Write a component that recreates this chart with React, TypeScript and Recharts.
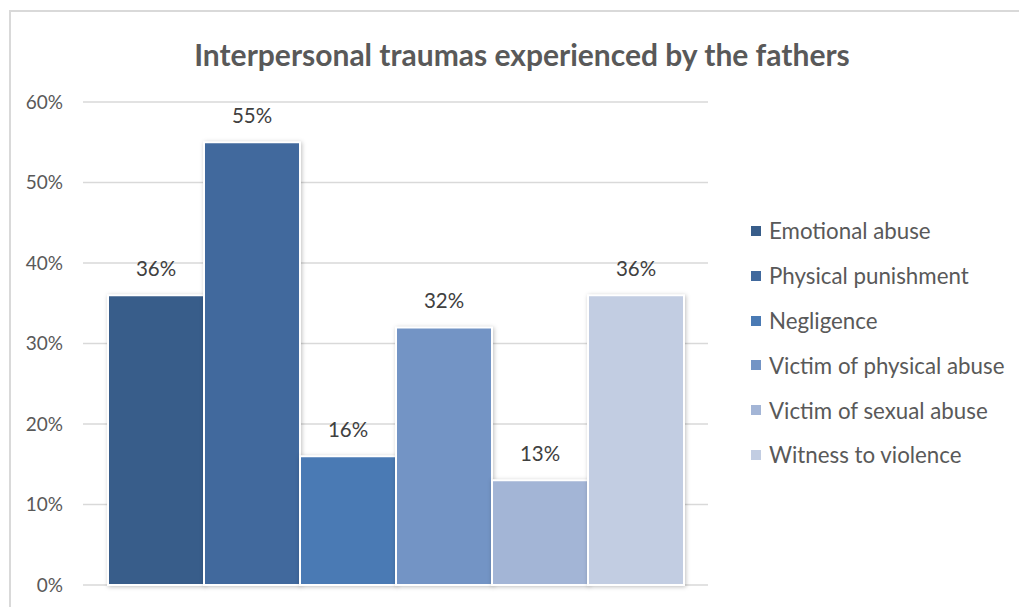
import React from "react";
import { BarChart, Bar, XAxis, YAxis, CartesianGrid, LabelList } from "recharts";

const categories = ["Fathers"];
const seriesNames = [
  "Emotional abuse",
  "Physical punishment",
  "Negligence",
  "Victim of physical abuse",
  "Victim of sexual abuse",
  "Witness to violence",
];
const seriesValues = [36, 55, 16, 32, 13, 36];
const seriesColors = ["#385d8a", "#41699d", "#4a7ab4", "#7394c5", "#a3b5d6", "#c2cde2"];
const yTicks = [0, 10, 20, 30, 40, 50, 60];
const title = "Interpersonal traumas experienced by the fathers";

const keys = seriesNames.map((_, i) => `s${i}`);
const data = categories.map((c) => {
  const row: Record<string, any> = { category: c };
  keys.forEach((k, i) => (row[k] = seriesValues[i]));
  return row;
});

const FONT = "Lato, 'Liberation Sans', sans-serif";

const LegendList = () => (
  <div style={{ position: "absolute", left: 751, top: 208.6, fontFamily: FONT }}>
    {seriesNames.map((n, i) => (
      <div key={n} style={{ height: 44.8, display: "flex", alignItems: "center", marginTop: 0 }}>
        <span style={{ width: 10, height: 10, background: seriesColors[i], display: "inline-block", marginRight: 8 }} />
        <span style={{ fontSize: 22.3, color: "#595959", whiteSpace: "nowrap" }}>{n}</span>
      </div>
    ))}
  </div>
);

export default function App() {
  return (
    <div style={{ position: "absolute", left: 0, top: 0, width: 1019, height: 607, background: "#fff", overflow: "hidden" }}>
      <div style={{ position: "absolute", left: 9, top: 10, width: 1030, height: 620, borderTop: "2px solid #d9d9d9", borderLeft: "2px solid #d9d9d9", boxSizing: "border-box" }} />
      <div style={{ position: "absolute", left: 9, width: 1026, top: 54, transform: "translateY(-50%)", lineHeight: "36px", textAlign: "center", fontFamily: FONT, fontWeight: 700, fontSize: 30, color: "#595959", whiteSpace: "nowrap" }}>
        {title}
      </div>
      <div style={{ position: "absolute", left: 0, top: 0 }}>
        <BarChart
          width={1019}
          height={607}
          data={data}
          margin={{ top: 102, right: 311, bottom: 22, left: 0 }}
          barCategoryGap="4%"
          barGap={0}
        >
          <CartesianGrid vertical={false} stroke="#d9d9d9" strokeWidth={1.3} />
          <XAxis dataKey="category" hide />
          <YAxis
            width={83}
            domain={[0, 60]}
            ticks={yTicks}
            tickFormatter={(v) => `${v}%`}
            axisLine={false}
            tickLine={false}
            tickSize={0}
            tickMargin={20}
            tick={{ fill: "#595959", fontSize: 19, fontFamily: FONT }}
          />
          {keys.map((k, i) => (
            <Bar
              key={k}
              dataKey={k}
              name={seriesNames[i]}
              fill={seriesColors[i]}
              stroke="#ffffff"
              strokeWidth={2}
              isAnimationActive={false}
              style={{ filter: "drop-shadow(1px 1px 2px rgba(0,0,0,0.25))" }}
            >
              <LabelList
                dataKey={k}
                position="top"
                offset={19}
                formatter={(v: any) => `${v}%`}
                style={{ fill: "#404040", fontSize: 20.5, fontFamily: FONT }}
              />
            </Bar>
          ))}
        </BarChart>
      </div>
      <LegendList />
    </div>
  );
}
